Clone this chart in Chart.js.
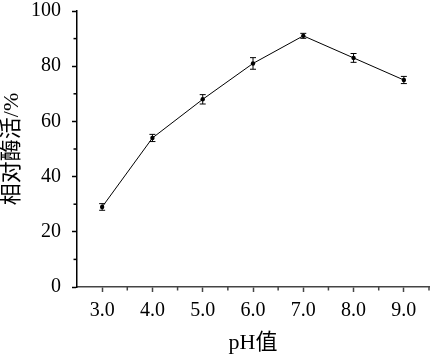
<!DOCTYPE html>
<html><head><meta charset="utf-8">
<script src="https://cdn.jsdelivr.net/npm/chart.js@4"></script>
<style>html,body{margin:0;padding:0;background:#fff}</style>
</head><body>
<canvas id="c" width="433" height="355"></canvas>
<script>
const phValues = [3, 4, 5, 6, 7, 8, 9];
const phLabels = ['3.0', '4.0', '5.0', '6.0', '7.0', '8.0', '9.0'];
const activity = [29, 54, 68, 81, 91, 83, 75];
const errors = [1.2, 1.3, 1.7, 2.1, 0.9, 1.6, 1.3];
const yTickValues = [0, 20, 40, 60, 80, 100];
const xMinorTicks = [3.5, 4.5, 5.5, 6.5, 7.5, 8.5, 9.5];
const yMinorTicks = [10, 30, 50, 70, 90];
const xTitle = 'pH值';
const yTitle = '相对酶活/%';

const serif = "'Liberation Serif','Times New Roman','Noto Sans CJK SC',serif";

const minorTicks = {
  id: 'minorTicks',
  afterDraw(chart) {
    const {ctx, scales: {x, y}, chartArea: a} = chart;
    ctx.save();
    ctx.lineWidth = 1.5;
    ctx.strokeStyle = '#444';
    xMinorTicks.forEach(v => {
      const px = x.getPixelForValue(v);
      ctx.beginPath(); ctx.moveTo(px, a.bottom); ctx.lineTo(px, a.bottom + 3.5); ctx.stroke();
    });
    ctx.strokeStyle = '#000';
    yMinorTicks.forEach(v => {
      const py = y.getPixelForValue(v);
      ctx.beginPath(); ctx.moveTo(a.left, py); ctx.lineTo(a.left - 3.5, py); ctx.stroke();
    });
    ctx.restore();
  }
};

const errorBars = {
  id: 'errorBars',
  afterDatasetsDraw(chart) {
    const {ctx, scales: {x, y}} = chart;
    ctx.save();
    ctx.strokeStyle = '#000';
    ctx.lineWidth = 1;
    phValues.forEach((v, i) => {
      const px = x.getPixelForValue(v);
      const top = y.getPixelForValue(activity[i] + errors[i]);
      const bot = y.getPixelForValue(activity[i] - errors[i]);
      ctx.beginPath();
      ctx.moveTo(px, top); ctx.lineTo(px, bot);
      ctx.moveTo(px - 3, top); ctx.lineTo(px + 3, top);
      ctx.moveTo(px - 3, bot); ctx.lineTo(px + 3, bot);
      ctx.stroke();
    });
    ctx.restore();
  }
};

new Chart(document.getElementById('c'), {
  type: 'line',
  data: {
    datasets: [{
      data: phValues.map((v, i) => ({x: v, y: activity[i]})),
      borderColor: '#000',
      borderWidth: 1,
      backgroundColor: '#000',
      pointRadius: 2.2,
      pointBackgroundColor: '#000',
      pointBorderWidth: 0,
      tension: 0
    }]
  },
  options: {
    responsive: false,
    animation: false,
    devicePixelRatio: 1,
    layout: {padding: {top: 11, right: 2, left: 0, bottom: 0}},
    plugins: {legend: {display: false}, tooltip: {enabled: false}},
    scales: {
      x: {
        type: 'linear',
        min: 2.5, max: 9.5,
        afterBuildTicks(s) { s.ticks = phValues.map(v => ({value: v})); },
        afterFit(s) { s.height = 68; s.paddingLeft = 0; s.paddingRight = 0; },
        ticks: {
          callback: (v) => { const i = phValues.indexOf(v); return i >= 0 ? phLabels[i] : ''; },
          font: {family: serif, size: 20},
          color: '#000',
          padding: 7,
          maxRotation: 0,
          autoSkip: false
        },
        grid: {drawOnChartArea: false, drawTicks: true, tickLength: 5, tickColor: '#444', tickWidth: 1.5},
        border: {display: true, color: '#444', width: 1.5},
        title: {display: true, text: xTitle, font: {family: serif, size: 22, lineHeight: 1.1}, color: '#000', padding: 0}
      },
      y: {
        min: 0, max: 100,
        afterBuildTicks(s) { s.ticks = yTickValues.map(v => ({value: v})); },
        afterFit(s) { s.width = 77; s.paddingTop = 0; s.paddingBottom = 0; },
        ticks: {
          font: {family: serif, size: 20},
          color: '#000',
          padding: 11
        },
        grid: {drawOnChartArea: false, drawTicks: true, tickLength: 5, tickColor: '#000', tickWidth: 1.5},
        border: {display: true, color: '#000', width: 1.5},
        title: {display: true, text: yTitle, font: {family: serif, size: 22, lineHeight: 1.1}, color: '#000', padding: 0}
      }
    }
  },
  plugins: [minorTicks, errorBars]
});
</script>
</body></html>
